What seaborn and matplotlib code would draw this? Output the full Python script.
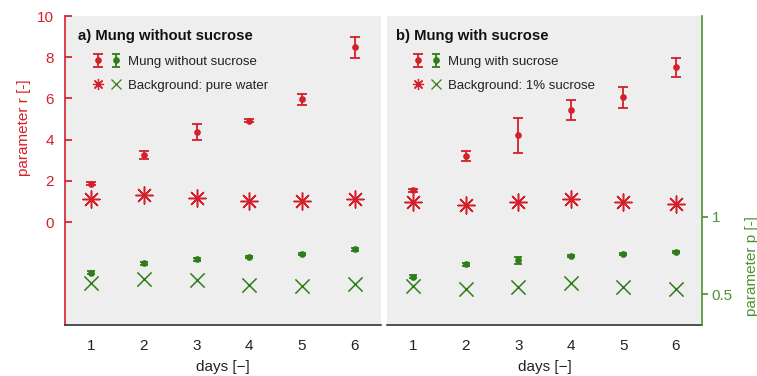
import numpy as np
import pandas as pd
import matplotlib
matplotlib.use("Agg")
import matplotlib.pyplot as plt
import seaborn as sns
from matplotlib.lines import Line2D
from matplotlib.legend_handler import HandlerTuple

days = [1, 2, 3, 4, 5, 6]

# Panel a) Mung without sucrose
r_a = [1.85, 3.25, 4.38, 4.92, 5.96, 8.48]
r_a_err = [0.07, 0.18, 0.38, 0.06, 0.27, 0.50]
r_bg_a = [1.12, 1.31, 1.18, 1.02, 1.02, 1.12]
p_a = [0.638, 0.700, 0.724, 0.739, 0.760, 0.790]
p_a_err = [0.010, 0.010, 0.008, 0.008, 0.008, 0.008]
p_bg_a = [0.569, 0.597, 0.592, 0.556, 0.551, 0.564]

# Panel b) Mung with sucrose
r_b = [1.55, 3.20, 4.22, 5.44, 6.05, 7.52]
r_b_err = [0.07, 0.24, 0.85, 0.50, 0.52, 0.46]
r_bg_b = [0.97, 0.84, 0.95, 1.10, 0.97, 0.85]
p_b = [0.612, 0.694, 0.718, 0.748, 0.760, 0.774]
p_b_err = [0.010, 0.010, 0.020, 0.008, 0.008, 0.008]
p_bg_b = [0.551, 0.536, 0.545, 0.569, 0.547, 0.530]

titles = ["a) Mung without sucrose", "b) Mung with sucrose"]
labels_main = ["Mung without sucrose", "Mung with sucrose"]
labels_bg = ["Background: pure water", "Background: 1% sucrose"]

RED = "#d4202a"
GREEN = "#2f7d18"
GREEN_AX = "#4b9430"
BG = "#eeeeee"

sns.set_theme(style="white")
plt.rcParams["font.family"] = ["Liberation Sans", "DejaVu Sans"]

fig = plt.figure(figsize=(7.57, 3.76), dpi=100)
H = 376.0
W = 757.0
axA = fig.add_axes([65 / W, (H - 325) / H, (381 - 65) / W, 309 / H])
axB = fig.add_axes([387 / W, (H - 325) / H, (702 - 387) / W, 309 / H])

asterisk = (8, 2, 0)

panels = [
    (axA, r_a, r_a_err, r_bg_a, p_a, p_a_err, p_bg_a),
    (axB, r_b, r_b_err, r_bg_b, p_b, p_b_err, p_bg_b),
]
title_x = [0.041, 0.029]
leg_x = [0.0854, 0.079]

FS_LEG = 9.5
fs_px = FS_LEG * 100 / 72.0

for i, (ax, r, re, rbg, p, pe, pbg) in enumerate(panels):
    ax.set_facecolor(BG)
    ax2 = ax.twinx()
    ax2.set_zorder(ax.get_zorder() + 1)
    ax2.patch.set_visible(False)

    df_r = pd.DataFrame({"day": days, "r_bg": rbg})
    df_p = pd.DataFrame({"day": days, "p_bg": pbg})

    ebr = ax.errorbar(days, r, yerr=re, fmt="o", color=RED, ms=3.8,
                      elinewidth=1.3, capsize=3.5, capthick=1.3)
    sns.scatterplot(data=df_r, x="day", y="r_bg", ax=ax, marker=asterisk,
                    s=150, color=RED, linewidth=1.1, edgecolor=RED, legend=False)
    ebp = ax2.errorbar(days, p, yerr=pe, fmt="o", color=GREEN, ms=3.8,
                       elinewidth=1.3, capsize=3, capthick=1.3)
    sns.scatterplot(data=df_p, x="day", y="p_bg", ax=ax2, marker="x",
                    s=105, color=GREEN, linewidth=1.1, legend=False)

    ax.set_xlim(0.5, 6.5)
    ax.set_ylim(-5, 10)
    ax2.set_ylim(0.3, 2.3)
    ax.set_xticks(days)
    ax.set_xlabel("days [\u2212]", fontsize=11, color="#222222", labelpad=5)
    ax.tick_params(axis="x", direction="in", length=4, colors="#222222",
                   labelcolor="#222222", labelsize=11, pad=10)
    for s in ["top", "right"]:
        ax.spines[s].set_visible(False)
        ax2.spines[s].set_visible(False)
    ax2.spines["left"].set_visible(False)
    ax2.spines["bottom"].set_visible(False)
    ax.spines["bottom"].set_color("#333333")
    ax.spines["bottom"].set_linewidth(1.2)

    if i == 0:
        ax.set_yticks([0, 2, 4, 6, 8, 10])
        ax.tick_params(axis="y", direction="in", length=5, colors=RED,
                       labelsize=11, pad=8)
        ax.spines["left"].set_color(RED)
        ax.spines["left"].set_linewidth(1.2)
        ax.set_ylabel("parameter r [-]", fontsize=11, color=RED)
        ax.yaxis.set_label_coords(-0.107, 0.64)
        ax2.set_yticks([])
        ax2.set_ylabel("")
    else:
        ax.spines["left"].set_visible(False)
        ax.set_yticks([])
        ax.set_ylabel("")
        ax2.spines["right"].set_visible(True)
        ax2.spines["right"].set_color(GREEN_AX)
        ax2.spines["right"].set_linewidth(1.2)
        ax2.set_yticks([0.5, 1])
        ax2.set_yticklabels(["0.5", "1"])
        ax2.tick_params(axis="y", direction="out", length=4, colors=GREEN_AX,
                        labelsize=11, pad=3)
        ax2.set_ylabel("parameter p [-]", fontsize=11, color=GREEN_AX)
        ax2.yaxis.set_label_coords(1.135, 0.19)

    ax2.text(title_x[i], 0.936, titles[i], transform=ax.transAxes,
             fontsize=10.7, fontweight="bold", color="#111111",
             ha="left", va="center")

    bg_r = Line2D([], [], linestyle="none", marker=asterisk, color=RED,
                  markersize=8, markeredgewidth=0.9)
    bg_p = Line2D([], [], linestyle="none", marker="x", color=GREEN,
                  markersize=6.5, markeredgewidth=0.9)
    leg = ax2.legend(
        handles=[(ebr, ebp), (bg_r, bg_p)],
        labels=[labels_main[i], labels_bg[i]],
        handler_map={tuple: HandlerTuple(ndivide=None, pad=6 / fs_px)},
        loc="upper left", bbox_to_anchor=(leg_x[i], 0.872), frameon=False,
        fontsize=FS_LEG, handlelength=30 / fs_px,
        handletextpad=6 / fs_px, labelspacing=0.9, borderaxespad=0.0,
        borderpad=0.0,
    )
    for t in leg.get_texts():
        t.set_color("#222222")

fig.savefig("out.png", dpi=100)
